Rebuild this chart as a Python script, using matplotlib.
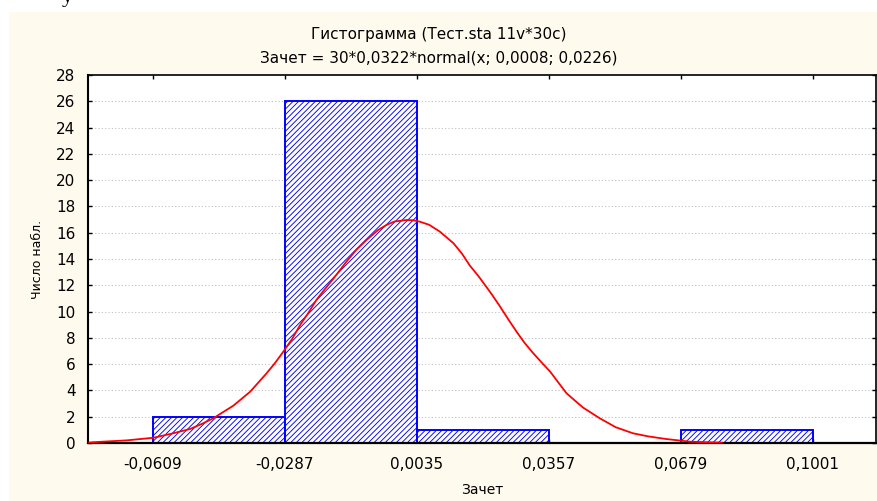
import matplotlib
matplotlib.use("Agg")
import matplotlib.pyplot as plt
from matplotlib.patches import Rectangle

plt.rcParams["font.family"] = ["DejaVu Sans"]
plt.rcParams["hatch.linewidth"] = 0.65

# границы интервалов и частоты
bin_edges = [-0.0609, -0.0287, 0.0035, 0.0357, 0.0679, 0.1001]
counts = [2, 26, 1, 0, 1]

# кривая нормального распределения
curve_x = [-0.0765, -0.0755, -0.0673, -0.0608, -0.0565, -0.0519, -0.0490, -0.0462,
           -0.0413, -0.0372, -0.0352, -0.0332, -0.0311, -0.0291, -0.0270, -0.0250,
           -0.0230, -0.0210, -0.0190, -0.0169, -0.0137, -0.0113, -0.0088, -0.0060,
           -0.0039, -0.0020, 0.0010, 0.0025, 0.0042, 0.0065, 0.0091, 0.0124,
           0.0145, 0.0164, 0.0185, 0.0205, 0.0220, 0.0238, 0.0258, 0.0278,
           0.0298, 0.0319, 0.0340, 0.0360, 0.0380, 0.0400, 0.0440, 0.0481,
           0.0520, 0.0562, 0.0600, 0.0644, 0.0701, 0.0740, 0.0779]
curve_y = [0.03, 0.06, 0.20, 0.40, 0.70, 1.06, 1.45, 1.88,
           2.84, 3.90, 4.60, 5.30, 6.10, 6.95, 7.90, 8.98,
           9.90, 10.9, 11.7, 12.5, 13.8, 14.7, 15.45, 16.2,
           16.6, 16.85, 16.97, 16.95, 16.84, 16.6, 16.08, 15.2,
           14.4, 13.5, 12.7, 11.85, 11.2, 10.37, 9.40, 8.47,
           7.60, 6.82, 6.10, 5.43, 4.60, 3.78, 2.70, 1.88,
           1.20, 0.74, 0.50, 0.30, 0.10, 0.06, 0.03]

xticks = [-0.0609, -0.0287, 0.0035, 0.0357, 0.0679, 0.1001]
xtick_labels = ["-0,0609", "-0,0287", "0,0035", "0,0357", "0,0679", "0,1001"]
yticks = list(range(0, 29, 2))

fig = plt.figure(figsize=(8.77, 5.01), dpi=100)
fig.patch.set_facecolor("white")
# кремовая подложка
fig.patches.append(Rectangle((9 / 877, 0), 1, 1 - 12 / 501, transform=fig.transFigure,
                             facecolor="#fefaee", edgecolor="none", zorder=-10))
fig.text(62 / 877, 1.005, "у", fontsize=16, va="center", ha="left", family="Liberation Serif")

ax = fig.add_axes([88 / 877, 58 / 501, 788 / 877, 368 / 501])
ax.set_facecolor("white")

widths = [bin_edges[i + 1] - bin_edges[i] for i in range(len(counts))]
ax.bar(bin_edges[:-1], counts, width=widths, align="edge", facecolor="white",
       edgecolor="#0000ff", hatch="//////", linewidth=1.4, zorder=2)
ax.plot(curve_x, curve_y, color="#ff0000", linewidth=1.3, zorder=3)

ax.set_xlim(-0.07676, 0.1155)
ax.set_ylim(0, 28)
ax.set_xticks(xticks)
ax.set_xticklabels(xtick_labels)
ax.set_yticks(yticks)

for y in yticks[1:-1]:
    ax.axhline(y, color="#c0c0c0", linestyle=(0, (1, 2)), linewidth=0.8, zorder=1)

for s in ax.spines.values():
    s.set_color("black")
    s.set_linewidth(1.2)
ax.spines["left"].set_linewidth(1.5)
ax.spines["bottom"].set_linewidth(1.6)

ax.tick_params(direction="in", length=3, width=1, top=True, right=True,
               labelsize=11, colors="black")
ax.tick_params(axis="y", pad=9)
ax.tick_params(axis="x", pad=10)

ax.set_xlabel("Зачет", fontsize=10, labelpad=8)
ax.set_ylabel("Число набл.", fontsize=9, labelpad=9)

fig.text(0.5, 1 - 35 / 501, "Гистограмма (Тест.sta 11v*30c)", ha="center", va="center", fontsize=11)
fig.text(0.5, 1 - 58 / 501, "Зачет = 30*0,0322*normal(x; 0,0008; 0,0226)", ha="center",
         va="center", fontsize=11)

fig.savefig("out.png", dpi=100, facecolor=fig.get_facecolor())
